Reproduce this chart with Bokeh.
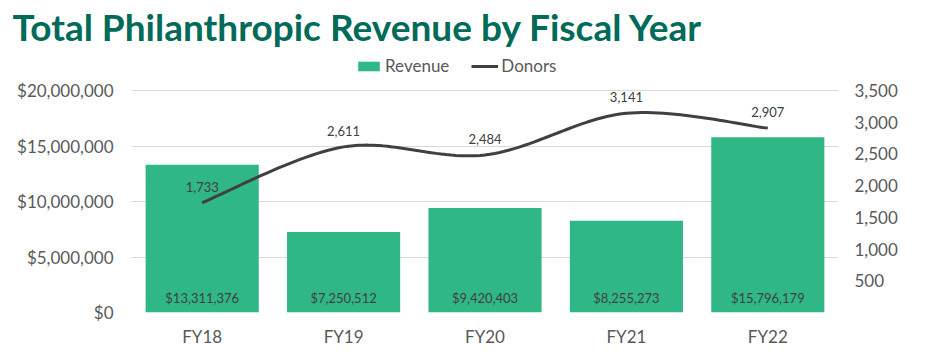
from bokeh.plotting import figure
from bokeh.models import Range1d, LinearAxis, FixedTicker, NumeralTickFormatter, Legend, LegendItem, ColumnDataSource, Title
from bokeh.core.properties import value
from bokeh.embed import file_html
from bokeh.resources import INLINE
import numpy as np

years = ["FY18", "FY19", "FY20", "FY21", "FY22"]
revenue = [13311376, 7250512, 9420403, 8255273, 15796179]
donors = [1733, 2611, 2484, 3141, 2907]
rev_labels = ["$13,311,376", "$7,250,512", "$9,420,403", "$8,255,273", "$15,796,179"]
donor_labels = ["1,733", "2,611", "2,484", "3,141", "2,907"]
left_ticks = [0, 5000000, 10000000, 15000000, 20000000]
right_ticks = [500, 1000, 1500, 2000, 2500, 3000, 3500]
title_text = "Total Philanthropic Revenue by Fiscal Year"

W, H = 943, 352
TOP, BOTTOM, LEFT, RIGHT = 56, 312, 131, 838
frame_h = BOTTOM - TOP
px_per_grid = 222.0
y_end = 20000000 * frame_h / px_per_grid
r_end = 3500 * frame_h / px_per_grid

GREEN = "#2FB886"
TEXT = "#595959"
LABEL = "#404040"
FONT = "Lato"

p = figure(width=W, height=H, output_backend="svg", toolbar_location=None,
           x_range=Range1d(-0.5, 4.5), y_range=Range1d(0, y_end),
           min_border_left=LEFT, min_border_right=W - RIGHT,
           min_border_top=TOP, min_border_bottom=H - BOTTOM)
p.outline_line_color = None
p.background_fill_color = "white"
p.border_fill_color = "white"

# spacer (closest to the frame) then the real title above it
p.add_layout(Title(text=" ", text_font_size="5px", standoff=0), "above")
p.add_layout(Title(text=title_text, text_font=FONT, text_font_style="bold",
                   text_font_size="37px", text_color="#006B58", align="left",
                   offset=-119, standoff=0), "above")

p.extra_y_ranges = {"donors": Range1d(0, r_end)}

x = np.arange(len(years))
src = ColumnDataSource(dict(x=x, rev=revenue, don=donors, dl=donor_labels))
src2 = ColumnDataSource(dict(x=x, y=[0] * len(years), rl=rev_labels))

bars = p.vbar(x="x", top="rev", width=0.8, source=src, fill_color=GREEN, line_color=None)

# Smoothed line (Catmull-Rom / Bezier through the data points)
pts = np.column_stack([x.astype(float), np.array(donors, float)])
ext = np.vstack([pts[0], pts, pts[-1]])
xs, ys = [], []
for i in range(1, len(ext) - 2):
    p0, p1, p2, p3 = ext[i - 1], ext[i], ext[i + 1], ext[i + 2]
    c1 = p1 + (p2 - p0) / 6.0
    c2 = p2 - (p3 - p1) / 6.0
    for t in np.linspace(0, 1, 30):
        b = (1 - t) ** 3 * p1 + 3 * (1 - t) ** 2 * t * c1 + 3 * (1 - t) * t ** 2 * c2 + t ** 3 * p2
        xs.append(b[0]); ys.append(b[1])
line = p.line(xs, ys, y_range_name="donors", line_color="#404040", line_width=3)

p.text(x="x", y="y", text="rl", source=src2, text_align="center", text_baseline="bottom",
       y_offset=-7, text_font=value(FONT), text_font_size="13px", text_color=LABEL)
p.text(x="x", y="don", text="dl", source=src, y_range_name="donors", text_align="center",
       text_baseline="bottom", y_offset=-11, text_font=value(FONT), text_font_size="13px",
       text_color=LABEL)

# axes
p.yaxis.ticker = FixedTicker(ticks=left_ticks)
p.yaxis.formatter = NumeralTickFormatter(format="$0,0")
p.xaxis.ticker = FixedTicker(ticks=list(range(5)))
p.xaxis.major_label_overrides = {i: y for i, y in enumerate(years)}
raxis = LinearAxis(y_range_name="donors", ticker=FixedTicker(ticks=right_ticks),
                   formatter=NumeralTickFormatter(format="0,0"))
p.add_layout(raxis, "right")
for ax in [p.xaxis[0], p.yaxis[0], raxis]:
    ax.axis_line_color = None
    ax.major_tick_line_color = None
    ax.minor_tick_line_color = None
    ax.major_label_text_font = FONT
    ax.major_label_text_font_size = "17px"
    ax.major_label_text_color = TEXT
p.yaxis[0].major_label_standoff = 12
raxis.major_label_standoff = 10
p.xaxis[0].major_label_standoff = 7

p.xgrid.grid_line_color = None
p.ygrid.grid_line_color = "#D9D9D9"
p.ygrid.grid_line_width = 1
p.ygrid.ticker = FixedTicker(ticks=left_ticks)

legend = Legend(items=[LegendItem(label="Revenue", renderers=[bars]),
                       LegendItem(label="Donors", renderers=[line])],
                orientation="horizontal", location=(224, 236),
                label_text_font=FONT, label_text_font_size="17px", label_text_color=TEXT,
                border_line_color=None, background_fill_alpha=0, glyph_width=27,
                glyph_height=12, spacing=22, label_standoff=3, margin=0, padding=2)
p.add_layout(legend, "center")

open("out.html", "w").write(file_html(p, INLINE))
